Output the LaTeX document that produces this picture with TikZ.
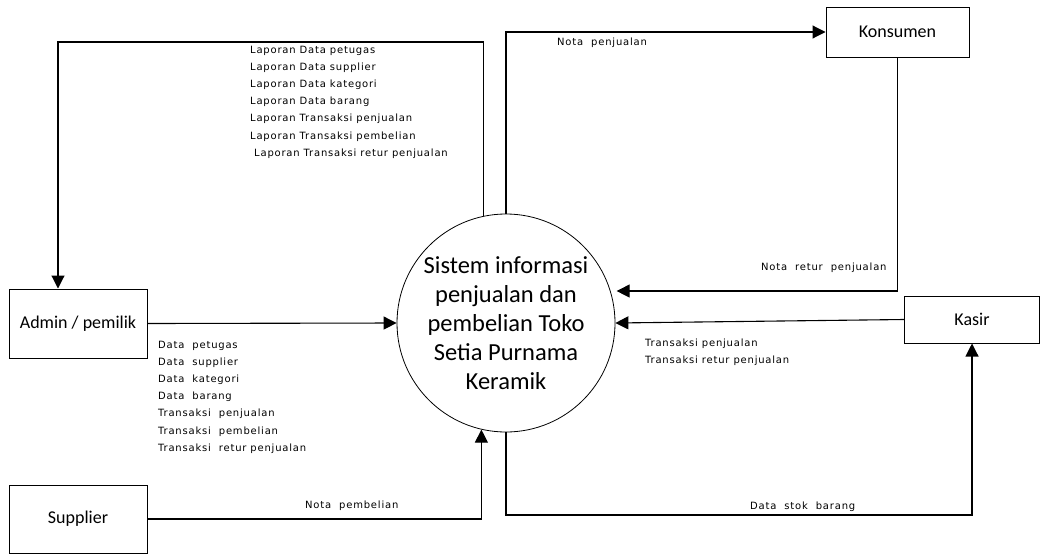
\documentclass[tikz,border=0pt]{standalone}
\usepackage{fontspec}
\setmainfont{Carlito}
\newfontfamily\labelfont[LetterSpace=8]{DejaVu Sans}
\usetikzlibrary{arrows.meta}

\begin{document}
\begin{tikzpicture}[x=1pt,y=-1pt,
  entity/.style={draw,line width=1pt,inner sep=0pt,font=\fontsize{18}{21}\selectfont},
  proses/.style={draw,circle,line width=0.8pt,minimum size=218pt,inner sep=0pt,align=center,font=\fontsize{24.5}{29}\selectfont},
  flow/.style={line width=1.1pt,-{Triangle[length=13pt,width=13pt]}},
  lbl/.style={inner sep=0pt,anchor=west,align=left,font=\labelfont\fontsize{10}{17.2}\selectfont}]
  \useasboundingbox (0,0) rectangle (1040,557);
  % nodes
  \node [entity,minimum width=143pt,minimum height=50pt] (kons) at (897.5,32) {Konsumen};
  \node [entity,minimum width=135pt,minimum height=47pt] (kasir) at (972,319.5) {Kasir};
  \node [entity,minimum width=138pt,minimum height=69pt] (admin) at (78,323.5) {Admin / pemilik};
  \node [entity,minimum width=138pt,minimum height=68pt] (supplier) at (78,519) {Supplier};
  \node [proses] (sistem) at (506,323) {Sistem informasi\\penjualan dan\\pembelian Toko\\Setia Purnama\\Keramik};
  \coordinate (1) at (58,42);
  \coordinate (2) at (0,515);
  % labels
  \node [lbl] (lap) at (250,102) {Laporan Data petugas\\Laporan Data supplier\\Laporan Data kategori\\Laporan Data barang\\Laporan Transaksi penjualan\\Laporan Transaksi pembelian\\\hspace*{4pt}Laporan Transaksi retur penjualan};
  \node [lbl] (data) at (158,397) {Data\ \ petugas\\Data\ \ supplier\\Data\ \ kategori\\Data\ \ barang\\Transaksi\ \ penjualan\\Transaksi\ \ pembelian\\Transaksi\ \ retur penjualan};
  \node [lbl] (trans) at (645,352.5) {Transaksi penjualan\\Transaksi retur penjualan};
  \node [lbl] (notajual) at (557,43) {Nota\ \ penjualan};
  \node [lbl] (notaretur) at (761,268) {Nota\ \ retur\ \ penjualan};
  \node [lbl] (notabeli) at (305,506) {Nota\ \ pembelian};
  \node [lbl] (stok) at (750,507) {Data\ \ stok\ \ barang};
  % edges
  \draw [flow] (sistem.102.2) |- (1) -- (1 |- admin.north);
  \draw [flow] (sistem.north) |- (kons.west);
  \draw [flow,shorten >=6pt] (kons.south) |- (sistem.17.6);
  \draw [flow] (kasir.west) -- (sistem.east);
  \draw [flow] (admin.east) -- (sistem.west);
  \draw [flow] (supplier.east) -| (sistem.257.8);
  \draw [flow] (sistem.south) |- (2 -| kasir.south) -- (kasir.south);
\end{tikzpicture}
\end{document}
